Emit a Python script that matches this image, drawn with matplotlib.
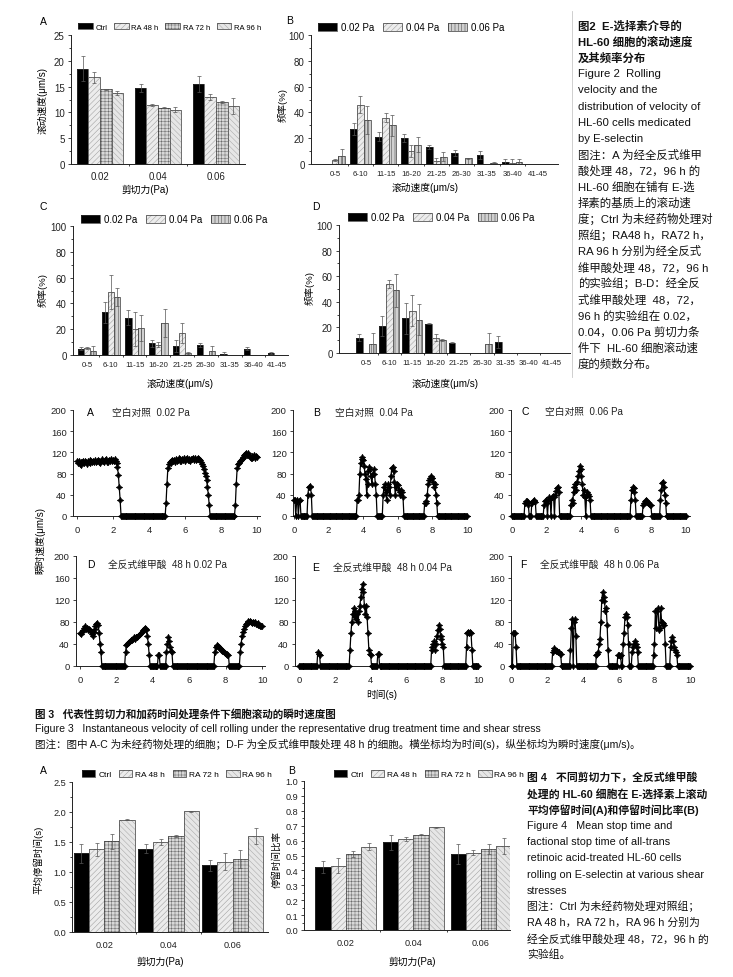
import numpy as np
import matplotlib
matplotlib.use('Agg')
import matplotlib.pyplot as plt
from matplotlib.lines import Line2D
from matplotlib.ticker import MultipleLocator, FixedLocator

W, H = 733, 978

plt.rcParams['font.family'] = ['Liberation Sans', 'Noto Sans CJK SC', 'DejaVu Sans']
plt.rcParams['hatch.linewidth'] = 0.35
plt.rcParams['axes.unicode_minus'] = False

# ---------------- 图2 A: 滚动速度 ----------------
shear_labels = ['0.02', '0.04', '0.06']
drug_groups = ['Ctrl', 'RA 48 h', 'RA 72 h', 'RA 96 h']
roll_ctrl = [18.5, 14.7, 15.5]
roll_ctrl_err = [2.4, 0.8, 1.5]
roll_ra48 = [16.8, 11.4, 13.0]
roll_ra48_err = [1.1, 0.15, 0.5]
roll_ra72 = [14.5, 10.9, 12.0]
roll_ra72_err = [0.1, 0.1, 0.2]
roll_ra96 = [13.7, 10.5, 11.2]
roll_ra96_err = [0.4, 0.5, 1.6]

# ---------------- 图2 B-D: 速度频率分布 ----------------
speed_bins = ['0-5', '6-10', '11-15', '16-20', '21-25', '26-30', '31-35', '36-40', '41-45']
shear_groups = ['0.02 Pa', '0.04 Pa', '0.06 Pa']
freq_b = [[0, 27, 21, 20, 13.5, 8.5, 7, 1.5, 0],
          [3, 46, 36, 10, 2, 0, 0, 1, 0],
          [6, 34, 30, 15, 5.5, 4.5, 1, 1.5, 0]]
freq_b_err = [[0, 4.5, 3.5, 3, 1.5, 2.5, 3, 2.5, 0],
              [0.5, 6.5, 3.5, 4.5, 3, 0, 0, 2.5, 0],
              [6, 11, 8, 6, 3.5, 0.5, 0.5, 2.5, 0]]
freq_c = [[5, 33, 29, 9, 7, 8, 1, 5, 1.5],
          [5.5, 49, 20, 8, 17, 0, 0, 0, 0],
          [3, 45, 21, 25, 1.5, 3, 0, 0, 0]]
freq_c_err = [[1.5, 8, 6, 3, 5, 1.5, 1, 1.5, 1],
              [1, 13, 13, 2, 8, 0, 0, 0, 0],
              [4, 7, 10, 11, 0.5, 4, 0, 0, 0]]
freq_d = [[12, 21, 27, 23, 8, 0, 8.5, 0, 0],
          [0, 54, 33, 12, 0, 0, 0, 0, 0],
          [7, 49, 26, 10, 0, 7, 0, 0, 0]]
freq_d_err = [[3, 8, 12, 0.5, 0.5, 0, 4.5, 0, 0],
              [0, 3, 12, 3, 0, 0, 0, 0, 0],
              [9, 13, 12, 1, 0, 9, 0, 0, 0]]

# ---------------- 图3: 瞬时速度 (每 0.05 s 一个点) ----------------
trace_a = [
    104, 100, 103, 99, 102, 97, 101, 103, 100, 104, 101, 99, 103, 102, 105, 100, 103, 101, 104, 102,
    105, 101, 103, 106, 102, 104, 100, 103, 107, 103, 101, 105, 108, 102, 104, 101, 106, 103, 107, 104,
    106, 103, 108, 104, 100, 92, 78, 55, 30, 0, 0, 0, 0, 0, 0, 0, 0, 0, 0, 0,
    0, 0, 0, 0, 0, 0, 0, 0, 0, 0, 0, 0, 0, 0, 0, 0, 0, 0, 0, 0,
    0, 0, 0, 0, 0, 0, 0, 0, 0, 0, 0, 0, 0, 0, 0, 0, 0, 0, 0, 25,
    60, 90, 98, 102, 104, 100, 106, 103, 105, 102, 108, 104, 106, 110, 104, 107, 103, 108, 105, 109,
    104, 107, 110, 105, 108, 106, 104, 108, 107, 110, 106, 109, 105, 108, 110, 108, 108, 106, 102, 98,
    94, 88, 82, 76, 68, 55, 40, 20, 0, 0, 0, 0, 0, 0, 0, 0, 0, 0, 0, 0,
    0, 0, 0, 0, 0, 0, 0, 0, 0, 0, 0, 0, 0, 0, 0, 0, 20, 60, 90, 98,
    100, 103, 105, 108, 110, 112, 115, 117, 118, 116, 118, 115, 112, 110, 113, 110, 112, 115, 110, 113,
    112]
trace_b = [
    30, 30, 0, 28, 30, 0, 28, 30, 0, 0, 0, 0, 0, 0, 0, 0, 40, 55, 57, 55,
    40, 0, 0, 0, 0, 0, 0, 0, 0, 0, 0, 0, 0, 0, 0, 0, 0, 0, 0, 0,
    0, 0, 0, 0, 0, 0, 0, 0, 0, 0, 0, 0, 0, 0, 0, 0, 0, 0, 0, 0,
    0, 0, 0, 0, 0, 0, 0, 0, 0, 0, 0, 0, 0, 30, 30, 40, 80, 100, 108, 112,
    105, 95, 80, 70, 40, 60, 85, 92, 88, 75, 60, 80, 88, 80, 60, 40, 0, 0, 0, 0,
    0, 0, 0, 40, 55, 60, 45, 30, 50, 60, 55, 40, 75, 90, 92, 85, 65, 40, 55, 60,
    58, 50, 45, 40, 50, 45, 35, 0, 0, 0, 0, 0, 0, 0, 0, 0, 0, 0, 0, 0,
    0, 0, 0, 0, 0, 0, 0, 0, 0, 0, 0, 25, 28, 25, 40, 60, 68, 72, 75, 72,
    72, 65, 55, 60, 40, 25, 0, 0, 0, 0, 0, 0, 0, 0, 0, 0, 0, 0, 0, 0,
    0, 0, 0, 0, 0, 0, 0, 0, 0, 0, 0, 0, 0, 0, 0, 0, 0, 0, 0, 0,
    0]
trace_c = [
    0, 0, 0, 0, 0, 0, 0, 0, 0, 0, 0, 0, 0, 0, 0, 25, 28, 28, 26, 20,
    0, 0, 0, 25, 28, 30, 28, 26, 0, 0, 0, 0, 0, 0, 0, 0, 0, 20, 28, 30,
    25, 0, 30, 35, 33, 0, 35, 38, 35, 0, 40, 48, 52, 55, 45, 0, 0, 0, 0, 0,
    0, 0, 0, 0, 0, 0, 0, 0, 20, 30, 25, 45, 55, 60, 50, 65, 75, 85, 95, 88,
    75, 60, 40, 50, 35, 0, 40, 45, 42, 38, 30, 0, 0, 0, 0, 0, 0, 0, 0, 0,
    0, 0, 0, 0, 0, 0, 0, 0, 0, 0, 0, 0, 0, 0, 0, 0, 0, 0, 0, 0,
    0, 0, 0, 0, 0, 0, 0, 0, 0, 0, 0, 0, 0, 0, 0, 0, 0, 30, 50, 55,
    52, 45, 30, 0, 0, 0, 0, 0, 0, 0, 0, 20, 25, 28, 30, 28, 26, 25, 22, 20,
    20, 0, 0, 0, 0, 0, 0, 0, 0, 0, 0, 30, 50, 62, 65, 55, 40, 25, 0, 0,
    0, 0, 0, 0, 0, 0, 0, 0, 0, 0, 0, 0, 0, 0, 0, 0, 0, 0, 0, 0,
    0]
trace_d = [
    60, 58, 62, 66, 70, 72, 70, 68, 70, 66, 68, 65, 62, 58, 55, 62, 68, 72, 76, 78,
    75, 60, 40, 25, 0, 0, 0, 0, 0, 0, 0, 0, 0, 0, 0, 0, 0, 0, 0, 0,
    0, 0, 0, 0, 0, 0, 0, 0, 0, 0, 25, 38, 40, 42, 44, 45, 48, 47, 50, 52,
    50, 52, 53, 52, 55, 56, 58, 60, 62, 65, 68, 70, 68, 65, 55, 40, 20, 0, 0, 0,
    0, 0, 0, 0, 0, 0, 20, 20, 0, 0, 0, 0, 0, 0, 0, 25, 40, 52, 45, 35,
    28, 25, 0, 0, 0, 0, 0, 0, 0, 0, 0, 0, 0, 0, 0, 0, 0, 0, 0, 0,
    0, 0, 0, 0, 0, 0, 0, 0, 0, 0, 0, 0, 0, 0, 0, 0, 0, 0, 0, 0,
    0, 0, 0, 0, 0, 0, 0, 0, 25, 35, 38, 37, 36, 34, 32, 30, 28, 27, 25, 23,
    22, 22, 20, 20, 0, 0, 0, 0, 0, 0, 0, 0, 0, 0, 0, 0, 25, 40, 55, 62,
    68, 72, 76, 78, 80, 82, 80, 81, 80, 79, 80, 78, 80, 77, 76, 78, 75, 74, 73, 72,
    72]
trace_e = [
    0, 0, 0, 0, 0, 0, 0, 0, 0, 0, 0, 0, 0, 0, 0, 0, 0, 0, 0, 0,
    0, 25, 22, 20, 0, 0, 0, 0, 0, 0, 0, 0, 0, 0, 0, 0, 0, 0, 0, 0,
    0, 0, 0, 0, 0, 0, 0, 0, 0, 0, 0, 0, 0, 0, 0, 0, 0, 30, 60, 80,
    95, 105, 90, 100, 85, 95, 80, 100, 110, 125, 140, 150, 135, 110, 95, 110, 90, 60, 30, 22,
    20, 0, 0, 0, 0, 0, 0, 0, 22, 22, 0, 0, 0, 0, 0, 0, 0, 0, 0, 0,
    0, 0, 0, 0, 0, 0, 0, 0, 0, 0, 0, 0, 0, 0, 0, 0, 0, 0, 0, 0,
    0, 0, 0, 0, 0, 0, 0, 0, 0, 0, 0, 0, 0, 0, 0, 0, 0, 0, 0, 0,
    0, 0, 0, 0, 0, 0, 0, 0, 30, 35, 40, 45, 30, 40, 55, 65, 75, 68, 55, 50,
    40, 35, 0, 0, 0, 0, 0, 0, 0, 0, 0, 0, 0, 0, 0, 0, 0, 0, 0, 0,
    0, 0, 0, 0, 0, 0, 0, 35, 60, 62, 60, 62, 60, 30, 0, 0, 0, 0, 0, 0,
    0]
trace_f = [
    0, 0, 60, 60, 60, 35, 0, 0, 0, 0, 0, 0, 0, 0, 0, 0, 0, 0, 0, 0,
    0, 0, 0, 0, 0, 0, 0, 0, 0, 0, 0, 0, 0, 0, 0, 0, 0, 0, 0, 0,
    0, 0, 0, 0, 0, 0, 25, 30, 32, 30, 28, 27, 25, 25, 22, 22, 0, 0, 0, 0,
    0, 0, 0, 0, 0, 0, 30, 70, 85, 0, 80, 85, 55, 0, 0, 0, 0, 0, 0, 0,
    0, 0, 0, 0, 0, 0, 0, 0, 0, 0, 0, 0, 0, 0, 0, 20, 22, 25, 40, 50,
    80, 120, 135, 125, 118, 100, 105, 75, 30, 0, 0, 0, 0, 0, 0, 0, 0, 0, 0, 20,
    20, 18, 20, 0, 0, 40, 60, 90, 95, 90, 75, 40, 0, 0, 0, 25, 35, 40, 45, 40,
    35, 25, 0, 0, 0, 0, 0, 0, 0, 0, 0, 0, 0, 0, 0, 0, 0, 0, 0, 20,
    40, 100, 70, 100, 105, 65, 70, 105, 80, 75, 78, 75, 40, 0, 0, 0, 0, 0, 35, 45,
    52, 45, 35, 30, 25, 20, 0, 0, 0, 0, 0, 0, 0, 0, 0, 0, 0, 0, 0, 0,
    0]
frame_step = 0.05

# ---------------- 图4: 停留时间 ----------------
stop_ctrl = [1.31, 1.39, 1.11]
stop_ctrl_err = [0.16, 0.08, 0.09]
stop_ra48 = [1.38, 1.50, 1.17]
stop_ra48_err = [0.11, 0.05, 0.14]
stop_ra72 = [1.51, 1.60, 1.22]
stop_ra72_err = [0.12, 0.01, 0.15]
stop_ra96 = [1.87, 2.01, 1.60]
stop_ra96_err = [0.01, 0.01, 0.13]
ratio_ctrl = [0.42, 0.59, 0.51]
ratio_ctrl_err = [0.04, 0.05, 0.065]
ratio_ra48 = [0.43, 0.61, 0.52]
ratio_ra48_err = [0.05, 0.015, 0.015]
ratio_ra72 = [0.51, 0.64, 0.545]
ratio_ra72_err = [0.02, 0.005, 0.035]
ratio_ra96 = [0.56, 0.69, 0.565]
ratio_ra96_err = [0.025, 0.004, 0.055]

# 柱子样式
S_BLACK = dict(face='black', hatch=None, hcol='black')
S_LIGHT = dict(face='#ececec', hatch='//////', hcol='#9a9a9a')
S_LIGHT2 = dict(face='#e6e6e6', hatch='\\\\\\\\\\\\', hcol='#a5a5a5')
S_GRID = dict(face='#d8d8d8', hatch='+++++', hcol='#6a6a6a')
S_VERT = dict(face='#d0d0d0', hatch='|||||', hcol='#444444')

fig = plt.figure(figsize=(W / 100, H / 100), dpi=100)


def px_axes(x0, y0, x1, y1):
    return fig.add_axes([x0 / W, 1 - y1 / H, (x1 - x0) / W, (y1 - y0) / H])


def px_text(x, y, s, **kw):
    kw.setdefault('va', 'center')
    return fig.text(x / W, 1 - y / H, s, **kw)


def style_axes(ax, fs):
    for side in ('top', 'right'):
        ax.spines[side].set_visible(False)
    for side in ('left', 'bottom'):
        ax.spines[side].set_linewidth(0.7)
        ax.spines[side].set_color('#222222')
    ax.tick_params(which='both', direction='out', width=0.6, pad=2, labelsize=fs, colors='#222222')
    ax.tick_params(which='major', length=2.5)
    ax.tick_params(which='minor', length=1.6)


def bar_panel(ax, centers, series, errs, styles, width):
    handles = []
    n = len(series)
    centers = np.asarray(centers, float)
    for k, (vals, err, st) in enumerate(zip(series, errs, styles)):
        x = centers + (k - (n - 1) / 2) * width
        vals = np.asarray(vals, float)
        err = np.asarray(err, float)
        b1 = ax.bar(x, vals, width, color=st['face'], hatch=st['hatch'],
                    edgecolor=st['hcol'], linewidth=0)
        b2 = ax.bar(x, vals, width, fill=False, edgecolor='#333333', linewidth=0.5)
        m = err > 0
        ax.errorbar(x[m], vals[m], yerr=err[m], fmt='none', ecolor='#555555',
                    elinewidth=0.5, capsize=1.6, capthick=0.5)
        handles.append((b1, b2))
    return handles


def px_legend(handles, labels, x, y, fs, hl=1.8, sp=0.8):
    fig.legend(handles, labels, loc='center left', bbox_to_anchor=(x / W, 1 - y / H),
               bbox_transform=fig.transFigure, ncol=len(labels), frameon=False,
               fontsize=fs, handlelength=hl, handleheight=0.9, handletextpad=0.35,
               columnspacing=sp, borderpad=0, borderaxespad=0)


# ================= 图2 A =================
ax = px_axes(71, 36, 245, 165)
pos = np.arange(1, len(shear_labels) + 1)
h = bar_panel(ax, pos, [roll_ctrl, roll_ra48, roll_ra72, roll_ra96],
              [roll_ctrl_err, roll_ra48_err, roll_ra72_err, roll_ra96_err],
              [S_BLACK, S_LIGHT, S_GRID, S_LIGHT2], 0.2)
ax.set_xlim(0.5, 3.5)
ax.set_ylim(0, 25)
ax.yaxis.set_major_locator(MultipleLocator(5))
ax.yaxis.set_minor_locator(MultipleLocator(2.5))
ax.set_xticks(pos)
ax.set_xticklabels(shear_labels)
ax.xaxis.set_minor_locator(FixedLocator([1.5, 2.5]))
style_axes(ax, 7)
ax.tick_params(axis='x', which='major', length=0, pad=5)
px_legend(h, drug_groups, 78, 28, 5.5, hl=1.9, sp=0.9)
px_text(40, 22, 'A', fontsize=7.5)
px_text(43, 100, '滚动速度(μm/s)', fontsize=7, rotation=90, ha='center')
px_text(145, 190, '剪切力(Pa)', fontsize=7, ha='center')

# ================= 图2 B-D =================
bin_pos = np.arange(len(speed_bins))
dist_panels = [
    ('B', freq_b, freq_b_err, (311, 36, 558, 165), (-0.95, 8.81), 0.27,
     (318, 28), (286, 21), (283, 105), (425, 188)),
    ('C', freq_c, freq_c_err, (73, 227, 288, 356), (-0.59, 8.45), 0.26,
     (81, 220), (40, 207), (43, 290), (180, 384)),
    ('D', freq_d, freq_d_err, (339, 226, 570, 354), (-1.16, 8.79), 0.29,
     (348, 218), (312, 207), (310, 288), (445, 384)),
]
for letter, vals, errs, box, xl, bw, leg_xy, let_xy, yl_xy, xl_xy in dist_panels:
    ax = px_axes(*box)
    h = bar_panel(ax, bin_pos, vals, errs, [S_BLACK, S_LIGHT, S_VERT], bw)
    ax.set_xlim(*xl)
    ax.set_ylim(0, 100)
    ax.yaxis.set_major_locator(MultipleLocator(20))
    ax.yaxis.set_minor_locator(MultipleLocator(10))
    ax.set_xticks(bin_pos)
    ax.set_xticklabels(speed_bins)
    ax.xaxis.set_minor_locator(FixedLocator(bin_pos[:-1] + 0.5))
    style_axes(ax, 7)
    ax.tick_params(axis='x', which='major', length=0, labelsize=5.6, pad=4)
    px_legend(h, shear_groups, leg_xy[0], leg_xy[1], 7, hl=2.0, sp=0.9)
    px_text(let_xy[0], let_xy[1], letter, fontsize=7.5)
    px_text(yl_xy[0], yl_xy[1], '频率(%)', fontsize=6.8, rotation=90, ha='center')
    px_text(xl_xy[0], xl_xy[1], '滚动速度(μm/s)', fontsize=7, ha='center')

# 图2 图注
fig2_caption = [
    '图2  E-选择素介导的',
    'HL-60 细胞的滚动速度',
    '及其频率分布',
    'Figure 2  Rolling',
    'velocity and the',
    'distribution of velocity of',
    'HL-60 cells medicated',
    'by E-selectin',
    '图注：A 为经全反式维甲',
    '酸处理 48，72，96 h 的',
    'HL-60 细胞在铺有 E-选',
    '择素的基质上的滚动速',
    '度；Ctrl 为未经药物处理对',
    '照组；RA48 h，RA72 h，',
    'RA 96 h 分别为经全反式',
    '维甲酸处理 48，72，96 h',
    '的实验组；B-D：经全反',
    '式维甲酸处理  48，72，',
    '96 h 的实验组在 0.02，',
    '0.04，0.06 Pa 剪切力条',
    '件下  HL-60 细胞滚动速',
    '度的频数分布。',
]
for i, line in enumerate(fig2_caption):
    px_text(578, 26 + 16.1 * i, line, fontsize=8.2,
            fontweight='bold' if i < 3 else 'normal', color='#111111')
fig.add_artist(Line2D([572 / W, 572 / W], [1 - 12 / H, 1 - 378 / H],
                      color='#c8c8c8', lw=0.6))

# ================= 图3 =================
trace_panels = [
    ('A', '空白对照  0.02 Pa', trace_a, (73, 411, 260, 517), (-0.22, 10.17), (87, 413), 112),
    ('B', '空白对照  0.04 Pa', trace_b, (293, 411, 470, 517), (-0.06, 10.17), (313, 413), 335),
    ('C', '空白对照  0.06 Pa', trace_c, (511, 411, 690, 517), (-0.05, 10.25), (522, 412), 545),
    ('D', '全反式维甲酸  48 h 0.02 Pa', trace_d, (76, 557, 265, 667), (-0.22, 10.16), (87, 565), 108),
    ('E', '全反式维甲酸  48 h 0.04 Pa', trace_e, (295, 557, 480, 667), (-0.22, 10.1), (312, 568), 333),
    ('F', '全反式维甲酸  48 h 0.06 Pa', trace_f, (511, 557, 692, 667), (-0.03, 10.1), (520, 565), 540),
]
for letter, title, vals, box, xl, let_xy, title_x in trace_panels:
    ax = px_axes(*box)
    t = np.arange(len(vals)) * frame_step
    ax.plot(t, vals, color='black', lw=0.9, marker=(4, 1, 0), ms=4.6, mew=0.5,
            clip_on=False, zorder=3)
    ax.set_xlim(*xl)
    ax.set_ylim(0, 200)
    ax.yaxis.set_major_locator(MultipleLocator(40))
    ax.xaxis.set_major_locator(MultipleLocator(2))
    style_axes(ax, 6.8)
    ax.tick_params(axis='x', pad=4)
    px_text(let_xy[0], let_xy[1], letter, fontsize=7.5)
    px_text(title_x, let_xy[1], title, fontsize=7, color='#222222')

px_text(40, 540, '瞬时速度(μm/s)', fontsize=7, rotation=90, ha='center')
px_text(382, 695, '时间(s)', fontsize=7, ha='center')

fig3_caption = [
    ('图 3   代表性剪切力和加药时间处理条件下细胞滚动的瞬时速度图', 'bold'),
    ('Figure 3   Instantaneous velocity of cell rolling under the representative drug treatment time and shear stress', 'normal'),
    ('图注：图中 A-C 为未经药物处理的细胞；D-F 为全反式维甲酸处理 48 h 的细胞。横坐标均为时间(s)，纵坐标均为瞬时速度(μm/s)。', 'normal'),
]
for i, (line, wt) in enumerate(fig3_caption):
    px_text(35, 714 + 15 * i, line, fontsize=7.6, fontweight=wt, color='#111111')

# ================= 图4 =================
bar4_panels = [
    ('A', [stop_ctrl, stop_ra48, stop_ra72, stop_ra96],
     [stop_ctrl_err, stop_ra48_err, stop_ra72_err, stop_ra96_err],
     (72, 783, 268, 933), (0.5, 3.55), 0.237, (0, 2.5), 0.5, 0.25,
     (82, 775), (40, 771), (38, 860), '平均停留时间(s)', (160, 962)),
    ('B', [ratio_ctrl, ratio_ra48, ratio_ra72, ratio_ra96],
     [ratio_ctrl_err, ratio_ra48_err, ratio_ra72_err, ratio_ra96_err],
     (304, 782, 510, 931), (0.38, 3.43), 0.225, (0, 1.0), 0.1, 0.05,
     (334, 775), (288, 771), (277, 860), '停留时间比率', (412, 962)),
]
for (letter, series, errs, box, xl, bw, yl, ymaj, ymin,
     leg_xy, let_xy, yl_xy, ylabel, xl_xy) in bar4_panels:
    ax = px_axes(*box)
    h = bar_panel(ax, pos, series, errs, [S_BLACK, S_LIGHT, S_GRID, S_LIGHT2], bw)
    ax.set_xlim(*xl)
    ax.set_ylim(*yl)
    ax.yaxis.set_major_locator(MultipleLocator(ymaj))
    ax.yaxis.set_minor_locator(MultipleLocator(ymin))
    ax.yaxis.set_major_formatter(plt.FormatStrFormatter('%.1f'))
    ax.set_xticks(pos)
    ax.set_xticklabels(shear_labels)
    ax.xaxis.set_minor_locator(FixedLocator([1.5, 2.5]))
    style_axes(ax, 6.6)
    ax.tick_params(axis='y', pad=1.5)
    ax.tick_params(axis='x', which='major', length=0, pad=6)
    px_legend(h, drug_groups, leg_xy[0], leg_xy[1], 6, hl=1.6, sp=0.9)
    px_text(let_xy[0], let_xy[1], letter, fontsize=7.5)
    px_text(yl_xy[0], yl_xy[1], ylabel, fontsize=6.8, rotation=90, ha='center')
    px_text(xl_xy[0], xl_xy[1], '剪切力(Pa)', fontsize=7, ha='center')

fig4_caption = [
    '图 4   不同剪切力下，全反式维甲酸',
    '处理的 HL-60 细胞在 E-选择素上滚动',
    '平均停留时间(A)和停留时间比率(B)',
    'Figure 4   Mean stop time and',
    'factional stop time of all-trans',
    'retinoic acid-treated HL-60 cells',
    'rolling on E-selectin at various shear',
    'stresses',
    '图注：Ctrl 为未经药物处理对照组；',
    'RA 48 h，RA 72 h，RA 96 h 分别为',
    '经全反式维甲酸处理 48，72，96 h 的',
    '实验组。',
]
for i, line in enumerate(fig4_caption):
    px_text(527, 778 + 16.1 * i, line, fontsize=7.8,
            fontweight='bold' if i < 3 else 'normal', color='#111111')

fig.savefig('out.png', dpi=100, facecolor='white')
